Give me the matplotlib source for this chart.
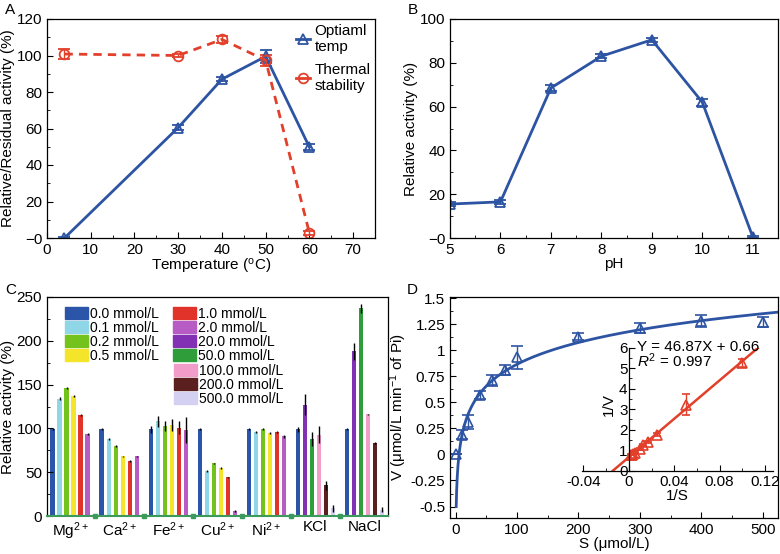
import matplotlib
matplotlib.use('Agg')
import matplotlib.pyplot as plt
from matplotlib.patches import Patch
from matplotlib.lines import Line2D
from matplotlib.ticker import MultipleLocator, FuncFormatter
import numpy as np

plt.rcParams['font.family'] = ['Liberation Sans', 'DejaVu Sans']
plt.rcParams['mathtext.fontset'] = 'custom'
plt.rcParams['mathtext.rm'] = 'Liberation Sans'
plt.rcParams['mathtext.it'] = 'Liberation Sans:italic'
plt.rcParams['font.size'] = 11
plt.rcParams['xtick.direction'] = 'in'
plt.rcParams['ytick.direction'] = 'in'
plt.rcParams['xtick.major.size'] = 4
plt.rcParams['ytick.major.size'] = 4
plt.rcParams['xtick.minor.size'] = 2.5
plt.rcParams['ytick.minor.size'] = 2.5
plt.rcParams['axes.linewidth'] = 0.9

# ---- A: temperature ----
temp = [4, 30, 40, 50, 60]
opt_act = [0, 60.5, 87, 99.5, 49.8]
opt_err = [0.6, 1.2, 1.2, 3.5, 1.5]
therm_act = [100.8, 100, 108.8, 97.4, 2.7]
therm_err = [2.5, 1, 1.8, 3, 1]

# ---- B: pH ----
ph = [5, 6, 7, 8, 9, 10, 11]
ph_act = [15.5, 16.5, 68.5, 83, 90.5, 62, 0.5]
ph_err = [0.8, 0.8, 1.5, 1, 1, 1.5, 0.5]

# ---- C: ions ----
ions = ['Mg$^{2+}$', 'Ca$^{2+}$', 'Fe$^{2+}$', 'Cu$^{2+}$', 'Ni$^{2+}$', 'KCl', 'NaCl']
conc_labels = ['0.0 mmol/L', '0.1 mmol/L', '0.2 mmol/L', '0.5 mmol/L',
               '1.0 mmol/L', '2.0 mmol/L', '20.0 mmol/L', '50.0 mmol/L',
               '100.0 mmol/L', '200.0 mmol/L', '500.0 mmol/L']
conc_colors = ['#2b55a8', '#8fd6e6', '#74c21c', '#f4e52a', '#e2332a', '#b65cc4',
               '#8331b4', '#2f9e3a', '#f19cc9', '#5a1f1e', '#d3d0f2']
metal_conc = [0, 1, 2, 3, 4, 5]
salt_conc = [0, 6, 7, 8, 9, 10]
ion_conc = [metal_conc] * 5 + [salt_conc] * 2
ion_vals = [
    [99, 134, 146, 137, 115, 94],
    [99, 88, 80, 68, 63, 68],
    [99, 108, 103, 104, 101, 98],
    [99, 51, 60, 55, 44, 6],
    [99, 96, 99, 95, 96, 91],
    [99, 127, 88, 93, 35, 9],
    [99, 188, 237, 116, 83, 7],
]
ion_errs = [
    [1, 1.5, 1, 1.5, 1, 1],
    [1, 1, 1.5, 1, 1, 1],
    [4, 6, 6, 7, 7, 15],
    [1, 1, 1, 1, 1, 1],
    [1, 1, 1, 1, 1, 1.5],
    [3, 12, 8, 10, 5, 4],
    [1, 10, 5, 1, 1, 3],
]

# ---- D: kinetics ----
S = [0, 10, 20, 40, 60, 80, 100, 200, 300, 400, 500]
V = [0.0, 0.19, 0.31, 0.57, 0.71, 0.81, 0.93, 1.13, 1.21, 1.28, 1.27]
V_err = [0, 0.04, 0.07, 0.04, 0.05, 0.05, 0.11, 0.03, 0.05, 0.06, 0.05]
inv_err = [0.2, 0.5, 0.08, 0.05, 0.05, 0.05, 0.04, 0.03, 0.03, 0.03]
lb_slope = 46.87
lb_icpt = 0.66

blue = '#2d54a3'
red = '#e2402b'


def zero_fmt(v, p):
    if v == 0:
        return '\u22120'
    return '%g' % v


fig = plt.figure(figsize=(7.8, 5.54), dpi=100)

# ================= A =================
ax = fig.add_axes([47/780, 1-238/554, 328/780, 219/554])
ax.errorbar(temp, opt_act, yerr=opt_err, color=blue, lw=2, marker='^', ms=7,
            mfc='none', mew=1.3, capsize=4, elinewidth=1)
ax.errorbar(temp, therm_act, yerr=therm_err, color=red, lw=2, ls=(0, (3, 2.2)),
            marker='o', ms=7, mfc='none', mew=1.3, capsize=4, elinewidth=1)
ax.set_xlim(0, 75)
ax.set_ylim(0, 120)
ax.xaxis.set_major_locator(MultipleLocator(10))
ax.xaxis.set_minor_locator(MultipleLocator(5))
ax.yaxis.set_major_locator(MultipleLocator(20))
ax.yaxis.set_minor_locator(MultipleLocator(10))
ax.yaxis.set_major_formatter(FuncFormatter(zero_fmt))
ax.set_xlabel('Temperature ($^{\\mathrm{o}}$C)', labelpad=0)
ax.set_ylabel('Relative/Residual activity (%)', labelpad=1)
hA = [Line2D([], [], color=blue, lw=2, marker='^', ms=7, mfc='none', mew=1.3),
      Line2D([], [], color=red, lw=2, marker='o', ms=7, mfc='none', mew=1.3)]
ax.legend(hA, ['Optiaml\ntemp', 'Thermal\nstability'], loc='upper right',
          frameon=False, handlelength=0.9, handletextpad=0.3, labelspacing=0.6,
          fontsize=11, bbox_to_anchor=(1.0, 1.0), borderaxespad=0.1,
          borderpad=0.2)
fig.text(5/780, 1-10/554, 'A', ha='left', va='center', fontsize=11)

# ================= B =================
ax = fig.add_axes([450/780, 1-238/554, 328/780, 219/554])
ax.errorbar(ph, ph_act, yerr=ph_err, color=blue, lw=2, marker='^', ms=7,
            mfc='none', mew=1.3, capsize=4, elinewidth=1)
ax.set_xlim(5, 11.5)
ax.set_ylim(0, 100)
ax.xaxis.set_major_locator(MultipleLocator(1))
ax.xaxis.set_minor_locator(MultipleLocator(0.5))
ax.yaxis.set_major_locator(MultipleLocator(20))
ax.yaxis.set_minor_locator(MultipleLocator(10))
ax.yaxis.set_major_formatter(FuncFormatter(zero_fmt))
ax.set_xlabel('pH', labelpad=0)
ax.set_ylabel('Relative activity (%)', labelpad=1)
fig.text(408/780, 1-10/554, 'B', ha='left', va='center', fontsize=11)

# ================= C =================
ax = fig.add_axes([47/780, 1-516/554, 341/780, 219/554])
for g in range(len(ions)):
    for k in range(6):
        ci = ion_conc[g][k]
        ax.bar(g * 7 + k, ion_vals[g][k], width=0.62, color=conc_colors[ci],
               yerr=ion_errs[g][k], ecolor='black',
               error_kw=dict(elinewidth=1, capsize=0))
gaps = [g * 7 + 6 for g in range(len(ions) - 1)]
ax.plot(gaps, [0] * len(gaps), 's', color='#3c9a5c', ms=3.5, clip_on=False)
ax.set_xlim(-0.8, 47.85)
ax.set_ylim(0, 250)
ax.set_xticks([g * 7 + 2.5 for g in range(len(ions))])
ax.set_xticklabels(ions)
ax.tick_params(axis='x', length=0, pad=3)
ax.yaxis.set_major_locator(MultipleLocator(50))
ax.yaxis.set_minor_locator(MultipleLocator(25))
ax.spines['bottom'].set_color('#3c9a5c')
ax.spines['bottom'].set_linewidth(1.5)
ax.set_ylabel('Relative activity (%)', labelpad=1)
h1 = [Patch(color=conc_colors[i]) for i in range(8)]
leg1 = ax.legend(h1, conc_labels[:8], ncol=2, loc='upper left',
                 bbox_to_anchor=(0.053, 0.955), borderaxespad=0, borderpad=0,
                 frameon=False, handlelength=1.65, handleheight=1.0,
                 handletextpad=0.15, labelspacing=0.0, columnspacing=1.0,
                 fontsize=10)
ax.add_artist(leg1)
h2 = [Patch(color=conc_colors[i]) for i in range(8, 11)]
ax.legend(h2, conc_labels[8:], loc='upper left',
          bbox_to_anchor=(0.372, 0.695), borderaxespad=0, borderpad=0,
          frameon=False, handlelength=1.65, handleheight=1.0,
          handletextpad=0.15, labelspacing=0.0, fontsize=10)
fig.text(5/780, 1-290/554, 'C', ha='left', va='center', fontsize=11)

# ================= D =================
ax = fig.add_axes([450/780, 1-518/554, 328/780, 221/554])
S_arr = np.array(S, dtype=float)
V_arr = np.array(V)
pos = S_arr > 0
a, b = np.polyfit(np.log(S_arr[pos]), V_arr[pos], 1)
s_lo = np.exp((-0.5 - b) / a)
s_fit = np.concatenate([np.linspace(s_lo, 12, 300), np.linspace(12, 525, 600)])
ax.plot(s_fit, a * np.log(s_fit) + b, color=blue, lw=2)
ax.errorbar(S, V, yerr=V_err, color=blue, ls='none', marker='^', ms=7,
            mfc='none', mew=1.2, capsize=4, elinewidth=1)
ax.set_xlim(-9, 525)
ax.set_ylim(-0.61, 1.51)
ax.xaxis.set_major_locator(MultipleLocator(100))
ax.xaxis.set_minor_locator(MultipleLocator(50))
ax.yaxis.set_major_locator(MultipleLocator(0.25))
ax.yaxis.set_minor_locator(MultipleLocator(0.125))
ax.yaxis.set_major_formatter(FuncFormatter(lambda v, p: '%g' % v))
ax.set_xlabel('S (\u03bcmol/L)', labelpad=0)
ax.set_ylabel('V (\u03bcmol/L min$^{-1}$ of Pi)', labelpad=1)
fig.text(407/780, 1-290/554, 'D', ha='left', va='center', fontsize=11)

# inset: Lineweaver-Burk
axi = fig.add_axes([582/780, 1-470.7/554, 191/780, 123/554])
axi.patch.set_alpha(0)
inv_s = 1.0 / S_arr[pos]
inv_v = 1.0 / V_arr[pos]
x_lo = -lb_icpt / lb_slope
x_hi = (6 - lb_icpt) / lb_slope
xl = np.array([x_lo, x_hi])
axi.plot(xl, lb_slope * xl + lb_icpt, color=red, lw=1.8)
axi.errorbar(inv_s, inv_v, yerr=inv_err, color=red, ls='none', marker='^',
             ms=7, mfc='none', mew=1.2, capsize=3, elinewidth=1)
axi.set_xlim(-0.0413, 0.127)
axi.set_ylim(0, 6)
axi.spines['left'].set_position(('data', 0))
axi.spines['top'].set_visible(False)
axi.spines['right'].set_visible(False)
axi.spines['left'].set_bounds(0, 6)
axi.xaxis.set_major_locator(MultipleLocator(0.04))
axi.xaxis.set_minor_locator(MultipleLocator(0.02))
axi.yaxis.set_major_locator(MultipleLocator(1))
axi.yaxis.set_minor_locator(MultipleLocator(0.5))
axi.xaxis.set_major_formatter(FuncFormatter(lambda v, p: '%g' % round(v, 3)))
axi.tick_params(axis='x', direction='in', pad=3)
axi.tick_params(axis='y', direction='in', pad=1)
axi.set_xlabel('1/S', labelpad=0)
fig.text(609/780, 1-405/554, '1/V', rotation=90, ha='center', va='center',
         fontsize=11)
fig.text(637/780, 1-347/554, 'Y = %.2fX + %.2f' % (lb_slope, lb_icpt),
         ha='left', va='center', fontsize=11)
fig.text(637/780, 1-361/554, '$R^2$ = 0.997', ha='left', va='center',
         fontsize=11)

fig.savefig('out.png', dpi=100)
